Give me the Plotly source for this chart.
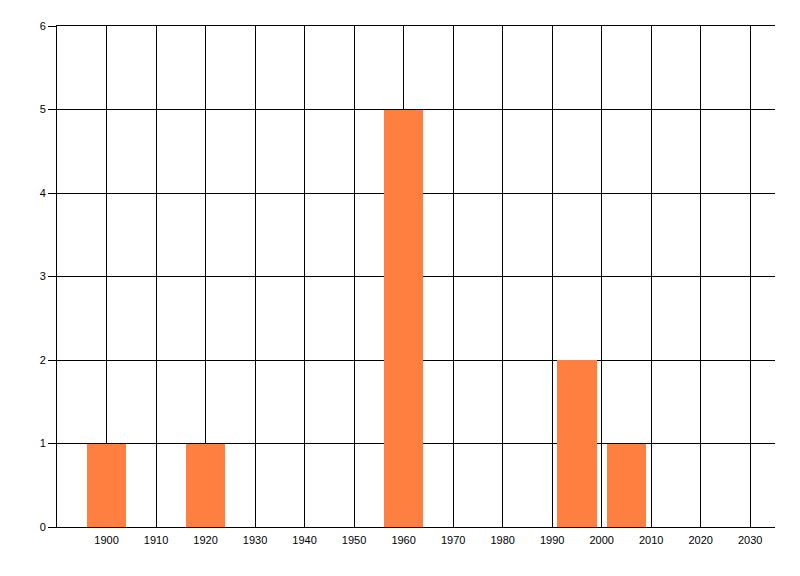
import plotly.graph_objects as go

years = [1900, 1920, 1960, 1995, 2005]
counts = [1, 1, 5, 2, 1]
x_ticks = list(range(1900, 2031, 10))
y_ticks = [0, 1, 2, 3, 4, 5, 6]

fig = go.Figure(
    go.Bar(x=years, y=counts, width=8, marker=dict(color="#ff7f40", line=dict(width=0)))
)

fig.update_layout(
    width=792, height=568,
    margin=dict(l=49, r=25, t=18, b=49),
    paper_bgcolor="white", plot_bgcolor="white",
    font=dict(family="Liberation Sans, Arial, sans-serif", size=11, color="black"),
    showlegend=False,
    bargap=0,
)
fig.update_xaxes(
    range=[1890, 2035], tickvals=x_ticks, ticktext=[str(v) for v in x_ticks],
    showgrid=True, gridcolor="black", gridwidth=1, zeroline=False,
    showline=True, linecolor="black", linewidth=1, mirror=True,
    ticks="outside", ticklen=3, tickcolor="rgba(0,0,0,0)",
)
fig.update_yaxes(
    range=[0, 6], tickvals=y_ticks,
    showgrid=True, gridcolor="black", gridwidth=1, zeroline=False,
    showline=True, linecolor="black", linewidth=1,
    ticks="outside", ticklen=8, tickcolor="black", tickwidth=1,
)

fig.write_html("out.html")
